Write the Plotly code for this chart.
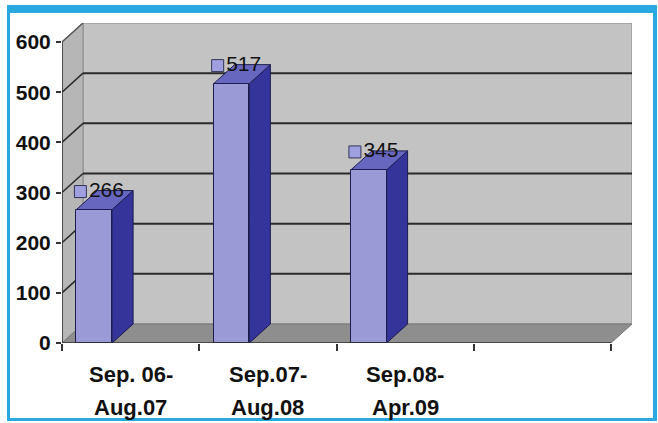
import plotly.graph_objects as go

# ---- data ----
cat_line1 = ["Sep. 06-", "Sep.07-", "Sep.08-", ""]
cat_line2 = ["Aug.07", "Aug.08", "Apr.09", ""]
values = [266, 517, 345]
y_ticks = [0, 100, 200, 300, 400, 500, 600]

# ---- layout geometry (pixels) ----
W, H = 658, 423
L, R, T, B = 62, 632, 23, 343
front_w_px = 549.0          # width of front plane (4 categories)
n_slots = 4
px_per_cat = front_w_px / n_slots
depth_dx_px, depth_dy_px = 21, 19
ymax_front = 600
px_per_val = (B - T - depth_dy_px) / ymax_front
dxu = depth_dx_px / px_per_cat
dyu = depth_dy_px / px_per_val
x0, x1 = -0.5, n_slots - 0.5
bar_w = 0.26
bar_off = -0.395

def pxx(p):
    return (p - L) / (R - L)

def pxy(p):
    return (B - p) / (B - T)

shapes = []
# back wall
shapes.append(dict(type="rect", xref="x", yref="y", x0=x0 + dxu, x1=x1 + dxu, y0=dyu, y1=ymax_front + dyu,
                   fillcolor="#c3c3c3", line=dict(color="#8a8a8a", width=1), layer="below"))
# left wall
shapes.append(dict(type="path", xref="x", yref="y",
                   path=f"M{x0},0 L{x0},{ymax_front} L{x0+dxu},{ymax_front+dyu} L{x0+dxu},{dyu} Z",
                   fillcolor="#b6b6b6", line=dict(color="#8a8a8a", width=1), layer="below"))
# floor
shapes.append(dict(type="path", xref="x", yref="y",
                   path=f"M{x0},0 L{x1},0 L{x1+dxu},{dyu} L{x0+dxu},{dyu} Z",
                   fillcolor="#8e8e8e", line=dict(color="#777777", width=1), layer="below"))
# gridlines on back wall and left wall
for v in y_ticks[1:-1]:
    shapes.append(dict(type="line", xref="x", yref="y", x0=x0 + dxu, x1=x1 + dxu, y0=v + dyu, y1=v + dyu,
                       line=dict(color="#2a2a2a", width=2), layer="below"))
    shapes.append(dict(type="line", xref="x", yref="y", x0=x0, x1=x0 + dxu, y0=v, y1=v + dyu,
                       line=dict(color="#2a2a2a", width=1.5), layer="below"))
# top diagonal of left wall
shapes.append(dict(type="line", xref="x", yref="y", x0=x0, x1=x0 + dxu, y0=ymax_front, y1=ymax_front + dyu,
                   line=dict(color="#555555", width=1.5), layer="below"))
# bar side and top faces
for i, v in enumerate(values):
    xl = i + bar_off
    xr = xl + bar_w
    shapes.append(dict(type="path", xref="x", yref="y",
                       path=f"M{xr},0 L{xr},{v} L{xr+dxu},{v+dyu} L{xr+dxu},{dyu} Z",
                       fillcolor="#34349a", line=dict(color="#1c1c50", width=1), layer="below"))
    shapes.append(dict(type="path", xref="x", yref="y",
                       path=f"M{xl},{v} L{xr},{v} L{xr+dxu},{v+dyu} L{xl+dxu},{v+dyu} Z",
                       fillcolor="#6767bf", line=dict(color="#1c1c50", width=1), layer="below"))
# front axes lines
shapes.append(dict(type="line", xref="x", yref="y", x0=x0, x1=x0, y0=0, y1=ymax_front,
                   line=dict(color="#333333", width=1.5), layer="above"))
shapes.append(dict(type="line", xref="x", yref="y", x0=x0, x1=x1, y0=0, y1=0,
                   line=dict(color="#333333", width=1.5), layer="above"))
# blue frame
blue = "#2aa8e0"
for (a, b, c, d) in [(7, 5, 657, 13), (7, 5, 10, 421), (653, 5, 657, 421), (7, 418, 657, 421)]:
    shapes.append(dict(type="rect", xref="paper", yref="paper", x0=pxx(a), x1=pxx(c), y0=pxy(d), y1=pxy(b),
                       fillcolor=blue, line=dict(width=0), layer="above"))

fig = go.Figure()
fig.add_trace(go.Bar(
    x=list(range(len(values))), y=values, width=bar_w, offset=bar_off,
    marker=dict(color="#9a9ad6", line=dict(color="#1c1c50", width=1)),
    hoverinfo="skip", showlegend=False))

# data labels with legend-key squares
lab_x = [i + bar_off + 4 / px_per_cat for i in range(len(values))]
lab_y = [v + dyu - 2 for v in values]
fig.add_trace(go.Scatter(
    x=lab_x, y=lab_y, mode="markers+text", text=[str(v) for v in values],
    textposition="middle right",
    textfont=dict(family="Liberation Sans, Arial", size=21, color="#111111"),
    marker=dict(symbol="square", size=12, color="#a0a0e0", line=dict(color="#333355", width=1)),
    hoverinfo="skip", showlegend=False, cliponaxis=False))

annotations = []
for i in range(len(cat_line1)):
    for txt, ys in ((cat_line1[i], -31), (cat_line2[i], -64)):
        if txt:
            annotations.append(dict(x=i, y=0, xref="x", yref="paper", text=f"<b>{txt}</b>",
                                    showarrow=False, yshift=ys, xanchor="center", yanchor="middle",
                                    font=dict(family="Liberation Sans, Arial", size=22, color="#111111")))

fig.update_layout(
    width=W, height=H,
    margin=dict(l=L, r=W - R, t=T, b=H - B),
    paper_bgcolor="white", plot_bgcolor="white",
    shapes=shapes, annotations=annotations,
    xaxis=dict(range=[x0, x1 + dxu], showgrid=False, zeroline=False, showline=False,
               tickmode="array", tickvals=[x0 + k for k in range(n_slots + 1)], ticktext=[""] * (n_slots + 1),
               ticks="outside", ticklen=7, tickcolor="#333333", tickwidth=1.5, fixedrange=True),
    yaxis=dict(range=[0, ymax_front + dyu], showgrid=False, zeroline=False, showline=False,
               tickmode="array", tickvals=y_ticks, ticktext=[f"<b>{t}</b>" for t in y_ticks],
               ticks="outside", ticklen=5, tickcolor="#333333", tickwidth=1.5, ticklabelstandoff=1,
               tickfont=dict(family="Liberation Sans, Arial", size=21, color="#111111"), fixedrange=True),
    bargap=0,
)

fig.write_html("out.html")
